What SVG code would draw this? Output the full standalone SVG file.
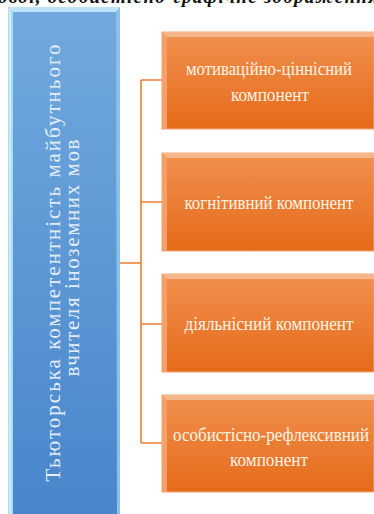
<svg xmlns="http://www.w3.org/2000/svg" width="374" height="514" viewBox="0 0 374 514">
<defs>
<linearGradient id="gBlue" x1="0" y1="0" x2="0" y2="1">
<stop offset="0" stop-color="#72a9de"/>
<stop offset="1" stop-color="#4886cb"/>
</linearGradient>
<linearGradient id="gOr" x1="0" y1="0" x2="0" y2="1">
<stop offset="0" stop-color="#f1904f"/>
<stop offset="1" stop-color="#e56b19"/>
</linearGradient>
<style>
.ot{font-family:"Liberation Serif","DejaVu Serif","Times New Roman",serif;font-size:19px;fill:#fff4e6;text-anchor:middle}
.bt{font-family:"Liberation Serif","DejaVu Serif","Times New Roman",serif;font-size:21px;fill:#e4eef9;text-anchor:middle}
.con{stroke:#ed7d31;stroke-width:1.6;fill:none}
.obox{fill:url(#gOr);stroke:#f4a576;stroke-width:1}
</style>
</defs>
<rect width="374" height="514" fill="#ffffff"/>
<text x="-2" y="3" font-family="Liberation Serif, DejaVu Serif, serif" font-style="italic" font-weight="bold" font-size="19" fill="#111" textLength="380" lengthAdjust="spacing">ової, особистісно-графічне зображення</text>

<g id="main">
<rect x="8" y="7" width="112" height="507" fill="url(#gBlue)"/>
<polygon points="8,7 120,7 116,12 13,12" fill="#bfe3fa"/>
<polygon points="8,7 13,12 13,514 8,514" fill="#a9dcf8"/>
<polygon points="120,7 120,514 117,514 116,12" fill="#8dbfe9"/>
<line x1="10" y1="9" x2="10" y2="514" stroke="#e6f6ff" stroke-width="1.2"/>
<text class="bt" transform="translate(60,263) rotate(-90)" textLength="437" lengthAdjust="spacing">Тьюторська компетентність майбутнього</text>
<text class="bt" transform="translate(79,258) rotate(-90)" textLength="237" lengthAdjust="spacing">вчителя іноземних мов</text>
</g>

<g id="connectors">
<path class="con" d="M120,263 H141 M141,80 V443 M141,80 H162 M141,202 H162 M141,324 H162 M141,443 H162"/>
</g>

<g id="n1">
<rect class="obox" x="162" y="32" width="212" height="97"/>
<polygon points="162,32 374,32 374,37 167,37" fill="#f6b68c"/>
<polygon points="162,32 167,37 167,129 162,129" fill="#f4a06a"/>
<text class="ot" x="269" y="75" textLength="166" lengthAdjust="spacingAndGlyphs">мотиваційно-ціннісний</text>
<text class="ot" x="270" y="101" textLength="78" lengthAdjust="spacingAndGlyphs">компонент</text>
</g>

<g id="n2">
<rect class="obox" x="162" y="153" width="212" height="98"/>
<polygon points="162,153 374,153 374,158 167,158" fill="#f6b68c"/>
<polygon points="162,153 167,158 167,251 162,251" fill="#f4a06a"/>
<text class="ot" x="269" y="209" textLength="169" lengthAdjust="spacingAndGlyphs">когнітивний компонент</text>
</g>

<g id="n3">
<rect class="obox" x="162" y="274" width="212" height="98"/>
<polygon points="162,274 374,274 374,279 167,279" fill="#f6b68c"/>
<polygon points="162,274 167,279 167,372 162,372" fill="#f4a06a"/>
<text class="ot" x="269" y="330" textLength="169" lengthAdjust="spacingAndGlyphs">діяльнісний компонент</text>
</g>

<g id="n4">
<rect class="obox" x="162" y="395" width="212" height="97"/>
<polygon points="162,395 374,395 374,400 167,400" fill="#f6b68c"/>
<polygon points="162,395 167,400 167,492 162,492" fill="#f4a06a"/>
<text class="ot" x="271" y="441" font-size="17.5" textLength="196" lengthAdjust="spacingAndGlyphs">особистісно-рефлексивний</text>
<text class="ot" x="269" y="466" textLength="78" lengthAdjust="spacingAndGlyphs">компонент</text>
</g>
</svg>
